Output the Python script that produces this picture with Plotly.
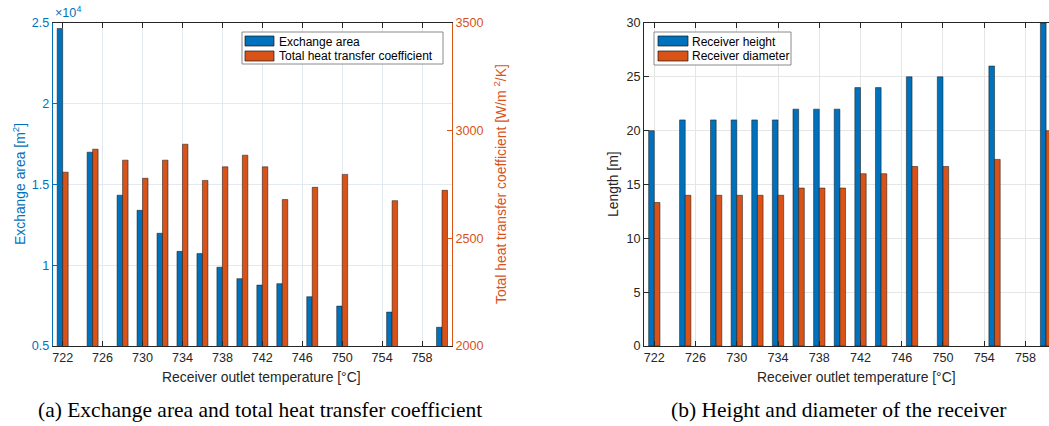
import plotly.graph_objects as go

# ---------------- data ----------------
temps = [722, 725, 728, 730, 732, 734, 736, 738, 740, 742, 744, 747, 750, 755, 760]
exchange_area = [24660, 17000, 14340, 13400, 11980, 10860, 10720, 9880, 9170, 8770,
                 8860, 8050, 7470, 7100, 6160]
heat_transfer_coeff = [2807, 2914, 2863, 2779, 2863, 2937, 2769, 2832, 2886, 2832,
                       2680, 2737, 2797, 2675, 2723]
receiver_height = [20, 21, 21, 21, 21, 21, 22, 22, 22, 24, 24, 25, 25, 26, 30]
receiver_diameter = [13.33, 14, 14, 14, 14, 14, 14.67, 14.67, 14.67, 16, 16,
                     16.67, 16.67, 17.33, 20]
x_ticks = [722, 726, 730, 734, 738, 742, 746, 750, 754, 758]
area_ticks = [5000, 10000, 15000, 20000, 25000]
area_tick_labels = ["0.5", "1", "1.5", "2", "2.5"]
htc_ticks = [2000, 2500, 3000, 3500]
length_ticks = [0, 5, 10, 15, 20, 25, 30]
legend_a = ["Exchange area", "Total heat transfer coefficient"]
legend_b = ["Receiver height", "Receiver diameter"]

# ---------------- style ----------------
W, H = 1049, 426
BLUE = "#0072BD"
ORANGE = "#D95319"
DARK = "#262626"
FONT = "Liberation Sans"
SERIF = "Liberation Serif"
EDGE = "rgba(20,20,20,0.85)"
BW = 0.55
TICK_SIZE = 12.6
LABEL_SIZE = 13.9
CAPTION_SIZE = 21.5


def px_x(p):
    return p / W


def px_y(p):
    return 1 - p / H


top_px, bot_px = 23, 346
ydom = [px_y(bot_px), px_y(top_px)]

fig = go.Figure()

fig.add_trace(go.Bar(x=temps, y=exchange_area, name=legend_a[0],
                     xaxis="x", yaxis="y", width=BW, offset=-BW,
                     marker=dict(color=BLUE, line=dict(color=EDGE, width=0.6))))
fig.add_trace(go.Bar(x=temps, y=heat_transfer_coeff, name=legend_a[1],
                     xaxis="x", yaxis="y2", width=BW, offset=0,
                     marker=dict(color=ORANGE, line=dict(color=EDGE, width=0.6))))
fig.add_trace(go.Bar(x=temps, y=receiver_height, name=legend_b[0],
                     xaxis="x2", yaxis="y3", width=BW, offset=-BW,
                     marker=dict(color=BLUE, line=dict(color=EDGE, width=0.6))))
fig.add_trace(go.Bar(x=temps, y=receiver_diameter, name=legend_b[1],
                     xaxis="x2", yaxis="y3", width=BW, offset=0,
                     marker=dict(color=ORANGE, line=dict(color=EDGE, width=0.6))))

grid_left = "#e3e9f0"
grid_right = "#e6e6e6"

common_x = dict(tickmode="array", tickvals=x_ticks, ticks="inside", ticklen=5,
                tickcolor=DARK, linecolor=DARK, linewidth=1, showline=True,
                mirror="ticks", showgrid=True, zeroline=False, automargin=False,
                tickfont=dict(family=FONT, size=TICK_SIZE, color=DARK))

left_l, left_r = 52.7, 452
right_l, right_r = 644, 1049
right_xmax = 721 + (right_r - right_l) / 10.31

fig.update_layout(
    width=W, height=H,
    margin=dict(l=0, r=0, t=0, b=0, autoexpand=False),
    paper_bgcolor="white", plot_bgcolor="white",
    font=dict(family=FONT, size=13, color=DARK),
    showlegend=False,
    xaxis=dict(domain=[px_x(left_l), px_x(left_r)], range=[721, 761],
               gridcolor=grid_left, anchor="y", **common_x),
    yaxis=dict(domain=ydom, range=[5000, 25000], tickmode="array",
               tickvals=area_ticks, ticktext=area_tick_labels,
               ticks="inside", ticklen=5, tickcolor=BLUE, linecolor=BLUE,
               linewidth=1, showline=True, showgrid=True, gridcolor=grid_left,
               zeroline=False, anchor="x", automargin=False,
               tickfont=dict(family=FONT, size=TICK_SIZE, color=BLUE)),
    yaxis2=dict(domain=ydom, range=[2000, 3500], tickmode="array",
                tickvals=htc_ticks, overlaying="y", side="right", anchor="x",
                ticks="inside", ticklen=5, tickcolor=ORANGE, linecolor=ORANGE,
                linewidth=1, showline=True, showgrid=False, zeroline=False,
                automargin=False,
                tickfont=dict(family=FONT, size=TICK_SIZE, color=ORANGE)),
    xaxis2=dict(domain=[px_x(right_l), 1.0], range=[721, right_xmax],
                gridcolor=grid_right, anchor="y3", **common_x),
    yaxis3=dict(domain=ydom, range=[0, 30], tickmode="array",
                tickvals=length_ticks, anchor="x2",
                ticks="inside", ticklen=5, tickcolor=DARK, linecolor=DARK,
                linewidth=1, showline=True, mirror=False, showgrid=True,
                gridcolor=grid_right, zeroline=False, automargin=False,
                tickfont=dict(family=FONT, size=TICK_SIZE, color=DARK)),
)

ann = []
shapes = []


def text(t, x, y, size=LABEL_SIZE, color=DARK, family=FONT, angle=0, xa="center", ya="middle"):
    ann.append(dict(text=t, x=px_x(x), y=px_y(y), xref="paper", yref="paper",
                    showarrow=False, textangle=angle, xanchor=xa, yanchor=ya,
                    font=dict(family=family, size=size, color=color)))


def rect(x0, y0, x1, y1, fill, line, lw=1):
    shapes.append(dict(type="rect", xref="paper", yref="paper",
                       x0=px_x(x0), x1=px_x(x1), y0=px_y(y1), y1=px_y(y0),
                       fillcolor=fill, line=dict(color=line, width=lw)))


# x-axis titles
text("Receiver outlet temperature [°C]", 261, 377)
text("Receiver outlet temperature [°C]", 856, 377)
# y-axis titles
text("Exchange area [m<sup>2</sup>]", 19, 184, color=BLUE, angle=-90)
text("Total heat transfer coefficient [W/m <sup>2</sup>/K]", 500, 184,
     color=ORANGE, angle=-90)
text("Length [m]", 613, 184, angle=-90)
# exponent label
text("×10<sup>4</sup>", 53, 22, size=TICK_SIZE, color=BLUE, xa="left", ya="bottom")
# captions
text("(a) Exchange area and total heat transfer coefficient", 260, 410,
     size=CAPTION_SIZE, color="black", family=SERIF)
text("(b) Height and diameter of the receiver", 838, 410,
     size=CAPTION_SIZE, color="black", family=SERIF)

# manual legends (MATLAB style)
rect(242, 32, 443, 64, "white", "#8a8a8a")
rect(245, 36, 274, 46, BLUE, EDGE, 0.8)
rect(245, 51, 274, 61, ORANGE, EDGE, 0.8)
text(legend_a[0], 277, 41.5, size=12, color="black", xa="left")
text(legend_a[1], 277, 56.5, size=12, color="black", xa="left")

rect(654, 32, 791, 65, "white", "#8a8a8a")
rect(658, 36, 688, 46, BLUE, EDGE, 0.8)
rect(658, 51, 688, 61, ORANGE, EDGE, 0.8)
text(legend_b[0], 690, 41.5, size=12, color="black", xa="left")
text(legend_b[1], 690, 56.5, size=12, color="black", xa="left")

fig.update_layout(annotations=ann, shapes=shapes)

fig.write_html("out.html")
